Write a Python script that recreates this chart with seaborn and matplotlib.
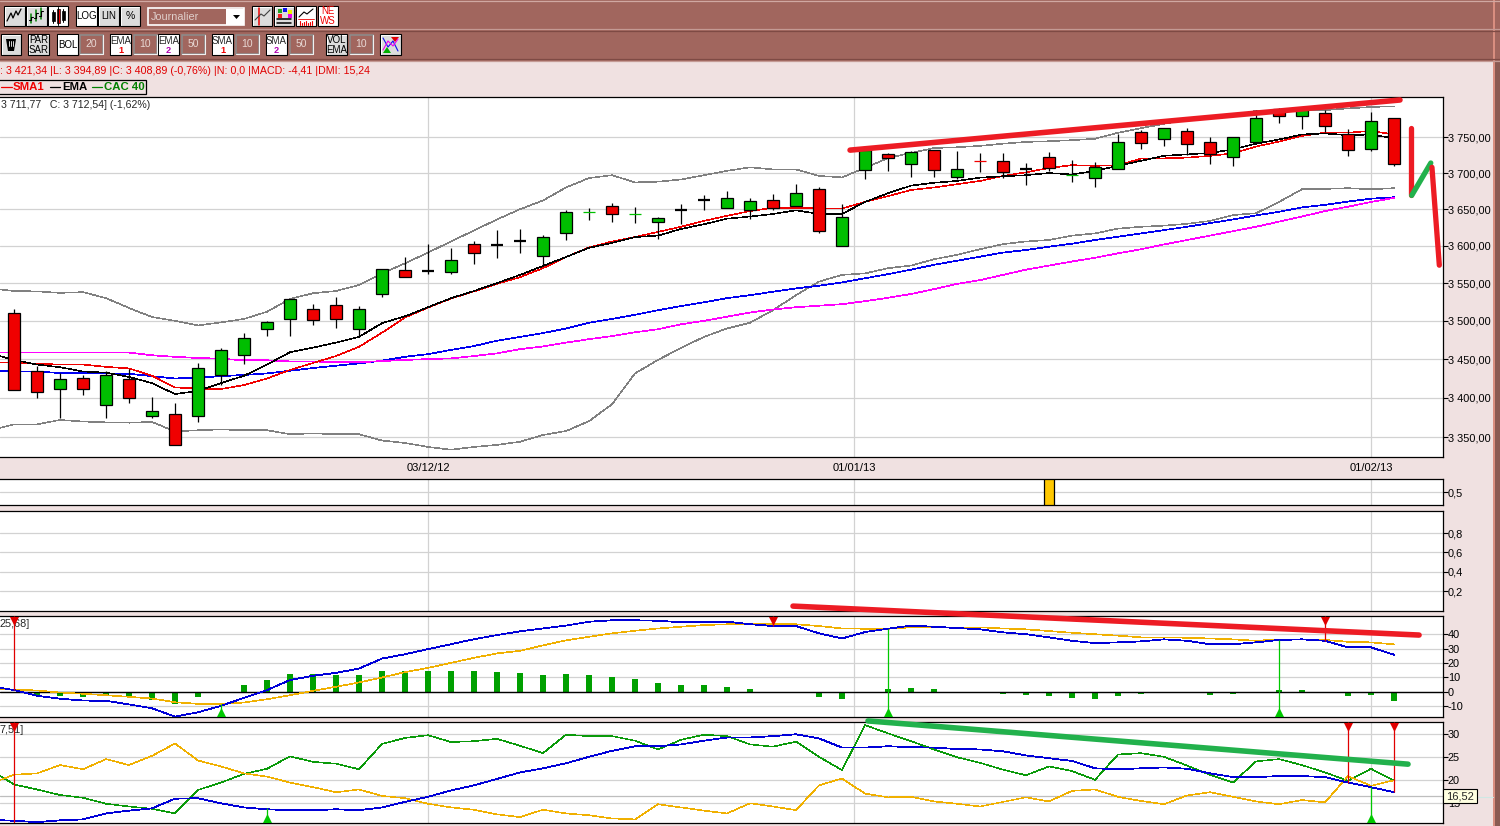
"""
CAC 40 daily chart with Bollinger bands, MACD and DMI panels (trading software screenshot).
"""
import matplotlib
matplotlib.use('Agg')
import matplotlib.pyplot as plt
from matplotlib.patches import Rectangle
import seaborn as sns


# === Data ===

days = list(range(-1, 61))
candle_days = days[1:]

opens = [3511, 3434, 3411, 3425, 3391, 3424, 3377, 3379, 3377, 3430, 3455, 3489, 3503, 3515, 3520.5, 3489,
         3536, 3567, 3566.5, 3564.5, 3602, 3601, 3606, 3587, 3618, 3646, 3654, 3643, 3632, 3649, 3662.5,
         3651, 3648.5, 3662, 3654, 3677.5, 3599.5, 3704, 3726, 3712, 3732, 3694, 3716.5, 3716.5, 3706,
         3722, 3697, 3693, 3705, 3757, 3747, 3758.5, 3743, 3722, 3744, 3790, 3780, 3785, 3754, 3734, 3777]
highs = [3516, 3441, 3432, 3429.5, 3435, 3437, 3401, 3393.5, 3444.6, 3464.5, 3484, 3500, 3528.5, 3522, 3531,
         3519, 3568.6, 3585, 3602, 3597, 3606.5, 3622, 3623, 3615, 3649, 3651, 3658, 3652.5, 3639, 3657,
         3669, 3675, 3666, 3671, 3685, 3680, 3657, 3735, 3727.5, 3731, 3732, 3731, 3728, 3728, 3714,
         3729.5, 3718, 3715, 3754, 3760, 3763.5, 3763, 3751, 3751, 3788.5, 3791, 3793, 3788.5, 3762, 3786, 3777]
lows = [3410, 3400, 3374, 3404, 3374, 3394, 3374, 3341, 3370, 3416, 3444, 3480.5, 3480.5, 3494, 3491, 3479,
        3532, 3558, 3562.5, 3562.5, 3575, 3584, 3590, 3574.5, 3608, 3635, 3632.5, 3631, 3610, 3630, 3649,
        3651, 3637, 3649, 3654, 3618, 3599.5, 3692, 3703, 3695, 3695, 3692, 3701, 3693, 3683, 3703, 3688,
        3680, 3705, 3734, 3738, 3725, 3713, 3710, 3744, 3770, 3762, 3757, 3724, 3731, 3710]
closes = [3410, 3407, 3424, 3412, 3430, 3399.5, 3383, 3341, 3439, 3461.5, 3477, 3498, 3528.5, 3500.5, 3502,
          3515, 3568.6, 3558, 3566.5, 3581, 3590, 3601, 3606, 3612, 3646, 3646, 3643, 3643, 3637.5, 3649,
          3662.5, 3666, 3661, 3652, 3673, 3620, 3640, 3731.5, 3720.5, 3729, 3704, 3705.5, 3716.5, 3702,
          3706, 3707.5, 3697, 3708, 3743, 3741.5, 3763, 3740, 3726, 3751, 3777, 3780, 3792, 3765.5, 3732,
          3772.5, 3712.54]
# colour of the flat open = close ticks
doji_colors = {18: 'black', 21: 'black', 22: 'black', 25: '#00C000', 27: '#00C000', 29: 'black', 30: 'black',
               42: '#F00000', 44: 'black', 46: '#00C000'}

boll_upper = [3543, 3539.5, 3539, 3537, 3538, 3530, 3517, 3505, 3500, 3494, 3498, 3502.5, 3512, 3529, 3536.5,
              3539.5, 3547.5, 3563, 3576.5, 3591, 3606, 3621, 3636, 3650, 3662, 3680, 3693, 3697, 3687, 3688,
              3691, 3697, 3703, 3708, 3705, 3705, 3696, 3694, 3707, 3721, 3728, 3735, 3736, 3738, 3741,
              3743.5, 3744.5, 3746, 3748, 3756.5, 3763, 3769, 3774.5, 3778.5, 3781.5, 3787.5, 3787.5, 3787.5,
              3788.5, 3791, 3793, 3794]
boll_lower = [3359, 3366.5, 3366.5, 3372, 3370, 3369, 3368.5, 3369.5, 3357.5, 3359, 3360, 3359, 3359, 3354,
              3355, 3354, 3354, 3346, 3343, 3338, 3334.5, 3338, 3340.5, 3344.5, 3353, 3358, 3370.5, 3392,
              3431.5, 3449, 3464.5, 3479, 3490, 3497.5, 3514, 3534, 3552, 3561, 3563, 3570, 3573.5, 3582,
              3588, 3595.5, 3602.5, 3606, 3608, 3614, 3617, 3623.5, 3626, 3627.5, 3630, 3634, 3642, 3644.5,
              3660, 3677.5, 3678, 3679, 3677.5, 3679]
ema_short = [3457, 3449, 3443, 3439.5, 3434, 3432.5, 3427, 3419, 3405, 3409, 3419, 3428.5, 3443, 3459, 3465,
             3471.5, 3479, 3497, 3506, 3518, 3530, 3539.5, 3550, 3561, 3573, 3585, 3597.5, 3604, 3612, 3614,
             3623, 3629.5, 3637, 3640, 3643.5, 3648.5, 3643.5, 3643.5, 3660, 3672, 3682.5, 3686.5, 3689,
             3693.5, 3695.5, 3697, 3700, 3698, 3703, 3710, 3717, 3724, 3726, 3728, 3733, 3741, 3747, 3754,
             3755.5, 3753, 3754, 3748.5]
sma_short = [3446.5, 3445, 3444, 3443, 3443, 3440, 3438, 3428.5, 3413.5, 3412, 3411.5, 3416.5, 3425, 3436,
             3445, 3454, 3466, 3484.5, 3504.5, 3517.5, 3529.5, 3539, 3549, 3558, 3570, 3585, 3598, 3606,
             3612, 3619, 3626, 3634, 3641, 3647.5, 3652, 3652, 3651, 3651, 3660, 3668, 3676.5, 3680, 3684.5,
             3689, 3696, 3701, 3707, 3711, 3710, 3711, 3720, 3720.5, 3721.5, 3724, 3727.5, 3737, 3744, 3752,
             3756.5, 3756.5, 3759, 3754]
ema_long = [3435, 3434, 3434, 3432, 3432.5, 3431.5, 3431, 3428, 3425, 3426, 3428, 3429.5, 3431.5, 3435, 3438.5,
            3441.5, 3444.5, 3448, 3453, 3456.5, 3462, 3467, 3474, 3479, 3484, 3490, 3497.5, 3502.5, 3508,
            3514, 3519.5, 3524.5, 3530, 3534, 3538.5, 3543, 3546.5, 3551, 3556.5, 3562, 3568, 3574.5, 3580,
            3585.5, 3591, 3594.5, 3599, 3603, 3608, 3612.5, 3617, 3621.5, 3626, 3631, 3636, 3641.5, 3646.5,
            3652.5, 3656, 3660.5, 3664.5, 3666.5]
sma_long = [3458.5, 3458.5, 3458.5, 3458.5, 3458.5, 3458.5, 3458.5, 3455, 3453, 3451.5, 3450.5, 3448.5, 3448.5,
            3447, 3447, 3446, 3446, 3447.5, 3449, 3450, 3451, 3454, 3457.5, 3463, 3466.5, 3471.5, 3476, 3480,
            3485, 3489, 3495.5, 3500, 3505.5, 3511, 3515, 3518, 3520, 3522, 3526, 3530.5, 3535.5, 3542, 3549,
            3554, 3561, 3568, 3573.5, 3579, 3584, 3590, 3595.5, 3602, 3608, 3614, 3620, 3626, 3633, 3640,
            3647.5, 3653.5, 3660, 3665.5]

# Hand-drawn trend marks on the price panel.
trend_days = [36.35, 60.26]
trend_prices = [3732, 3803]
zigzag_red_days = [60.74, 60.74]
zigzag_red_prices = [3763, 3670]
zigzag_green_days = [60.77, 61.6]
zigzag_green_prices = [3669, 3714]
zigzag_fall_days = [61.65, 61.97]
zigzag_fall_prices = [3708, 3574]

price_ticks = [3350, 3400, 3450, 3500, 3550, 3600, 3650, 3700, 3750]
price_labels = ['3 350,00', '3 400,00', '3 450,00', '3 500,00', '3 550,00', '3 600,00', '3 650,00',
                '3 700,00', '3 750,00']
date_ticks = [18, 36.52, 59]
date_labels = ['03/12/12', '01/01/13', '01/02/13']

alert_days = [45]
alert_values = [1]
alert_ticks = [0.5]
alert_labels = ['0,5']
volume_ticks = [0.2, 0.4, 0.6, 0.8]
volume_labels = ['0,2', '0,4', '0,6', '0,8']

macd_line = [3.7, 1, -3, -5, -6.3, -6.5, -9, -11.7, -17.5, -14.5, -10, -4.4, 1, 8, 11, 13, 16, 23, 26, 29.6, 33,
             36.5, 39.4, 42, 44, 46, 48.7, 49.7, 49.7, 49.4, 48.3, 48.7, 48.7, 47, 45.7, 45.7, 40.6, 37, 41.5,
             43.8, 46, 45.2, 44.3, 43.4, 41.3, 40, 37.8, 35.4, 33.8, 34.3, 35, 36.4, 35.4, 33, 33, 34.3, 36,
             36.4, 35.4, 30.8, 30.8, 25.68]
macd_signal = [1.4, 1.4, 0.7, -0.7, -1.6, -2.6, -3.7, -4.9, -7.5, -8.6, -8.6, -7.7, -5.4, -2.6, 0.5, 3.3, 6.3,
               9.8, 13.5, 16.5, 20, 23.5, 26.6, 28.4, 32.2, 35.7, 38.2, 40.6, 42.4, 44, 45.2, 46.4, 46.9, 47,
               46.9, 46.9, 45.7, 44, 43.8, 43.8, 44.8, 44.8, 44.8, 44.8, 44, 43.4, 42.2, 41, 40, 39, 37.8, 37.8,
               37.5, 37, 36.4, 35.4, 36.4, 36.4, 36, 34.7, 34.3, 32.9]
macd_hist = [0, -2.6, -3.3, -4, -3, -3.3, -5.8, -8.9, -4, 0, 4.4, 8, 12, 12, 11.4, 11.4, 14.2, 14.2, 14.2, 14.2,
             14.2, 13.5, 12.8, 11.4, 12, 11.4, 10, 8.6, 5.8, 4.4, 4.4, 3, 1.6, 0, 0, -4, -5.4, 0, 1.6, 2.3, 1.6,
             0, 0, -1.6, -2.6, -3.3, -4.7, -5.4, -3.3, -1.9, 0, -0.9, -2.6, -1.9, 0, 0.9, 0.9, 0, -3.3, -2.6, -6.8]
macd_ticks = [-10, 0, 10, 20, 30, 40]
macd_labels = ['-10', '0', '10', '20', '30', '40']
macd_sell_days = [0, 33, 57]
macd_sell_values = [1, 45.7, 35.4]
macd_buy_days = [9, 38, 55]
macd_buy_values = [-8.6, 43.8, 36]
macd_trend_days = [33.87, 61.09]
macd_trend_values = [59.6, 39.4]

di_plus = [22.2, 19.1, 18, 16.8, 16.2, 14.9, 14.3, 13.8, 12.8, 17.9, 19.5, 21.4, 22.5, 25.2, 24, 23.6, 22.4, 27.9,
           29.2, 29.8, 28.3, 28.5, 29, 27.5, 25.9, 29.9, 29.6, 29.6, 28.6, 26.7, 28.8, 29.9, 29.6, 27.8, 27.3,
           28.4, 25.1, 22.2, 32, 30.2, 28.5, 26.7, 25, 23.8, 22.3, 21.1, 23, 22, 20.1, 25.6, 25.9, 25.1, 23.2,
           21.2, 19.5, 24.1, 24.6, 23.3, 21.7, 19.9, 22.5, 19.9]
di_minus = [19.3, 21.2, 21.5, 23.3, 22.4, 24.6, 23.3, 25.3, 28, 24.3, 23, 21.5, 20.8, 19.5, 18.5, 17.4, 18, 16.6,
            16.1, 14.9, 14.1, 13.6, 12.6, 12, 13.6, 12.8, 12.4, 11.7, 11.5, 14.8, 14.1, 13.4, 12.8, 15, 14.3, 13.5,
            18.9, 20.4, 17.1, 16.3, 16.4, 15.4, 14.9, 14.3, 15.3, 16.3, 15.4, 17.7, 18, 16.4, 15.5, 14.8, 16.7,
            17.4, 16.4, 15.4, 14.8, 15.7, 15.2, 20.9, 18.8, 20]
adx = [11.4, 11.2, 10.9, 11.3, 11.5, 12.8, 13.4, 13.9, 16, 16.1, 15, 14.1, 13.7, 13.5, 13.5, 13.7, 13.5, 14.1, 15.3,
       16.4, 17.8, 18.9, 20.3, 21.7, 22.6, 23.7, 25.1, 26.4, 27.4, 27.4, 27.8, 28.6, 29.3, 29.3, 29.6, 30, 29.1,
       27.1, 27.1, 27.4, 27.2, 27.1, 26.8, 26.7, 26.3, 25.4, 24.8, 24.2, 22.6, 22.4, 22.6, 22.8, 22.5, 21.5, 20.7,
       20.7, 20.9, 20.9, 20.7, 19.5, 18.5, 17.4]
dmi_ticks = [15, 20, 25, 30]
dmi_labels = ['15', '20', '25', '30']
dmi_sell_days = [0, 58, 60]
dmi_sell_values = [10.7, 19.5, 17.4]
dmi_buy_days = [11, 59]
dmi_buy_values = [13.9, 18.6]
dmi_trend_days = [37.13, 60.61]
dmi_trend_values = [32.9, 23.5]
dmi_cursor = 16.52


# === Setup ===

sns.set_theme(style='white')
plt.rcParams.update({
    'font.family': ['Liberation Sans', 'DejaVu Sans'],
    'font.size': 8,
    'axes.linewidth': 0.9,
    'axes.edgecolor': 'black',
    'xtick.color': 'black',
    'ytick.color': 'black',
})

BROWN = '#A1665E'
PINK = '#F0E1E1'
GRID = '#D2D2D2'
W, H = 1500, 826
LEFT_DAY = -14 / 23
RIGHT_DAY = (1442.5 - 14) / 23

fig = plt.figure(figsize=(15, 8.26), dpi=100, facecolor=PINK)


def panel(top, bottom, ylim, log=False):
    """Make a panel from its pixel rows on the screen."""
    ax = fig.add_axes([0, 1 - bottom / H, 1442.5 / W, (bottom - top) / H])
    if log:
        ax.set_yscale('log')
    ax.set_ylim(*ylim)
    ax.set_facecolor('white')
    ax.spines['left'].set_visible(False)
    return ax


def finish(ax, ylim, ticks, labels):
    ax.set_xlim(LEFT_DAY, RIGHT_DAY)
    ax.set_ylim(*ylim)
    ax.yaxis.tick_right()
    ax.set_yticks(ticks, labels)
    ax.minorticks_off()
    ax.set_xticks(date_ticks, [])
    ax.set_xlabel('')
    ax.set_ylabel('')
    ax.tick_params(axis='y', length=3.4, width=0.8, pad=0.4, labelsize=7.9, labelright=True, labelleft=False)
    ax.tick_params(axis='x', length=0)
    ax.grid(True, color=GRID, lw=0.9)
    ax.set_axisbelow(True)


def line(ax, x, y, color, lw=0.4):
    sns.lineplot(x=x, y=y, color=color, lw=lw, antialiased=False, ax=ax, legend=False,
                 estimator=None, zorder=3)


def signals(ax, sell_days, sell_values, buy_days, buy_values, ylim, pad):
    """Buy and sell flags: a stem from the panel edge with a small triangle."""
    ax.vlines(sell_days, sell_values, ylim[1], color='#E00000', lw=0.9, zorder=5)
    ax.vlines(buy_days, ylim[0], buy_values, color='#00C800', lw=0.9, zorder=5)
    ax.scatter(sell_days, [ylim[1] - pad] * len(sell_days), marker='v', s=42, color='#E00000', lw=0, zorder=6)
    ax.scatter(buy_days, [ylim[0] + pad] * len(buy_days), marker='^', s=42, color='#00C800', lw=0, zorder=6)


# === Price panel ===

price_lim = (3326, 3808)
ax = panel(96.5, 456.5, price_lim, log=True)
line(ax, days, boll_upper, '#808080')
line(ax, days, boll_lower, '#808080')
line(ax, days, ema_long, '#0000F0', 0.5)
line(ax, days, sma_long, '#FF00FF', 0.5)
line(ax, days, sma_short, '#F00000', 0.4)
line(ax, days, ema_short, 'black', 0.4)

# Candles sit on top of the averages.
ax.vlines(candle_days, lows, highs, color='black', lw=0.9, zorder=4)
for day, o, c in zip(candle_days, opens, closes):
    if day in doji_colors:
        color = doji_colors[day]
        ax.hlines(c, day - 0.28, day + 0.28, color=color, lw=1.6 if color == 'black' else 0.9, zorder=5)
    else:
        ax.bar(day, abs(c - o), bottom=min(o, c), width=0.53, color='#00BE00' if c > o else '#F00000',
               edgecolor='black', lw=0.9, zorder=5)

finish(ax, price_lim, price_ticks, price_labels)
ax.tick_params(axis='x', length=2, width=0.8, labelbottom=True, labelsize=8, pad=3)
ax.set_xticks(date_ticks, date_labels)

ax.plot(trend_days, trend_prices, color='#ED1C24', lw=4, solid_capstyle='round', zorder=8)
ax.plot(zigzag_red_days, zigzag_red_prices, color='#ED1C24', lw=3.8, solid_capstyle='round', zorder=8)
ax.plot(zigzag_green_days, zigzag_green_prices, color='#22B14C', lw=3.8, solid_capstyle='round', zorder=8)
ax.plot(zigzag_fall_days, zigzag_fall_prices, color='#ED1C24', lw=3.8, solid_capstyle='round', zorder=8)
ax.text(1 / 1442.5, 0.977, '3 711,77   C: 3 712,54] (-1,62%)', transform=ax.transAxes, fontsize=7.6, va='center',
        zorder=9)


# === Alert panel ===

alert_lim = (0, 1)
ax = panel(478.7, 505.3, alert_lim)
sns.barplot(x=alert_days, y=alert_values, native_scale=True, width=0.43, color='#FFC800', saturation=1,
            edgecolor='black', lw=0.9, ax=ax, zorder=3)
finish(ax, alert_lim, alert_ticks, alert_labels)


# === Volume panel (empty) ===

volume_lim = (-0.007, 1.03)
ax = panel(510.7, 611.3, volume_lim)
finish(ax, volume_lim, volume_ticks, volume_labels)


# === MACD panel ===

macd_lim = (-18, 52.7)
ax = panel(616, 717.3, macd_lim)
sns.barplot(x=candle_days, y=macd_hist, native_scale=True, width=0.26, color='#00A000', saturation=1, lw=0,
            ax=ax, zorder=2)
ax.axhline(0, color='black', lw=1.0, zorder=2.5)
line(ax, days, macd_signal, '#F0B000', 0.45)
line(ax, days, macd_line, '#0000D8', 0.55)
finish(ax, macd_lim, macd_ticks, macd_labels)
signals(ax, macd_sell_days, macd_sell_values, macd_buy_days, macd_buy_values, macd_lim, 3.5)
ax.plot(macd_trend_days, macd_trend_values, color='#ED1C24', lw=4, solid_capstyle='round', clip_on=False, zorder=8)
ax.text(0.0, 0.925, '25,68]', transform=ax.transAxes, fontsize=7.8, va='center', zorder=4)


# === DMI panel ===

dmi_lim = (10.65, 32.6)
ax = panel(722.3, 823.3, dmi_lim)
ax.axhline(dmi_cursor, color='#BEBEBE', lw=0.9, zorder=1)
line(ax, days, di_plus, '#0A9A0A', 0.4)
line(ax, days, di_minus, '#F0B000', 0.4)
line(ax, days, adx, '#0000D8', 0.55)
finish(ax, dmi_lim, dmi_ticks, dmi_labels)
signals(ax, dmi_sell_days, dmi_sell_values, dmi_buy_days, dmi_buy_values, dmi_lim, 1.1)
ax.plot(dmi_trend_days, dmi_trend_values, color='#22B14C', lw=4, solid_capstyle='round', clip_on=False, zorder=8)
ax.text(0.0, 0.925, '7,51]', transform=ax.transAxes, fontsize=7.8, va='center', zorder=4)


# === Window chrome ===

ui = fig.add_axes([0, 0, 1, 1], zorder=20)
ui.set_xlim(0, W)
ui.set_ylim(H, 0)
ui.axis('off')
ui.patch.set_alpha(0)


def box(x0, y0, x1, y1, **kw):
    ui.add_patch(Rectangle((x0, y0), x1 - x0, y1 - y0, **kw))


def button(x0, y0, x1, y1, face='#DCDCDC', text=None, color='black', size=7):
    box(x0, y0, x1, y1, facecolor=face, edgecolor='black', lw=0.8)
    ui.plot([x0 + 1, x0 + 1, x1 - 1], [y1 - 1, y0 + 1, y0 + 1], color='white', lw=0.7)
    if text:
        ui.text((x0 + x1) / 2, (y0 + y1) / 2 + 0.3, text, ha='center', va='center', fontsize=size, color=color,
                linespacing=0.95)


def field(x0, y0, x1, y1, text):
    box(x0, y0, x1, y1, facecolor=BROWN, edgecolor='#8C8C8C', lw=1.1)
    ui.plot([x0, x1, x1], [y1, y1, y0], color='#F0F0F0', lw=0.8)
    ui.text((x0 + x1) / 2, (y0 + y1) / 2 + 0.3, text, ha='center', va='center', fontsize=7.5, color='#E8D8D4')


# Toolbars.
box(0, 0, W, 61, facecolor=BROWN, edgecolor='none')
for y, c in [(1, '#D0A8A2'), (28.5, '#C49A94'), (30.5, '#7E4A44'), (58.5, '#7E4A44'), (60.5, '#C49A94')]:
    ui.plot([0, W], [y, y], color=c, lw=0.9)

r1a, r1b = 5.5, 26
button(3.5, r1a, 24.5, r1b)
ui.plot([7, 11, 13, 16, 18, 21], [21, 13, 18, 11, 15, 9], color='black', lw=0.9)
button(26, r1a, 47, r1b)
for x, a, b in [(31, 14, 23), (36, 10, 21), (41, 8, 19)]:
    ui.plot([x, x], [a, b], color='#008000', lw=1.1)
    ui.plot([x - 2, x, x, x + 2], [b - 3, b - 3, a + 3, a + 3], color='black', lw=0.8)
button(48, r1a, 68, r1b, face='white')
for x, a, b, col in [(53, 12, 21, 'black'), (58, 9, 23, '#F00000'), (63, 11, 20, 'black')]:
    ui.plot([x, x], [a - 2, b + 2], color='black', lw=0.7)
    box(x - 1.5, a, x + 1.5, b, facecolor=col, edgecolor='black', lw=0.5)
button(76, r1a, 97, r1b, face='white', text='LOG', size=7)
button(98, r1a, 119, r1b, text='LIN', size=7)
button(120, r1a, 140, r1b, text='%', size=7.5)

box(148, 8, 244, 25, facecolor=BROWN, edgecolor='white', lw=1.2)
box(226, 8.5, 244, 24.5, facecolor='white', edgecolor='none')
ui.text(151, 16.8, 'Journalier', fontsize=7.8, va='center', color='#E0D0CC')
ui.fill([233, 240, 236.5], [15, 15, 19], color='black', lw=0)

button(252, r1a, 272, r1b)
ui.plot([259, 259], [7.5, 25], color='#F00000', lw=1.1)
ui.plot([255, 261, 264, 270], [20, 14, 16, 10], color='#404040', lw=0.8)
button(274, r1a, 294, r1b)
for x, y, c in [(278, 9, '#20A020'), (283, 8, '#1010F0'), (288, 10, '#F0F000'), (278, 14, '#F02020'), (288, 14, '#F000F0')]:
    box(x, y, x + 4, y + 4, facecolor=c, edgecolor='none')
ui.plot([277, 291], [19, 19], color='black', lw=1.1)
ui.plot([277, 291], [22.5, 22.5], color='black', lw=1.1)
button(296, r1a, 316, r1b, face='white')
ui.plot([299, 304, 307, 313], [17, 12, 14, 9], color='black', lw=0.8)
ui.plot([298, 314], [19, 19], color='#F00000', lw=0.6)
for x in range(300, 314, 2):
    ui.plot([x, x], [25, 21 + (x % 3)], color='#F00000', lw=0.8)
button(318, r1a, 338, r1b, face='white', text='NE\nWS', color='#F00000', size=7)

r2a, r2b = 34, 55
button(1, r2a, 21, r2b)
ui.fill([6, 16, 14, 8], [39, 39, 51, 51], color='black', lw=0)
for x in (9, 11, 13):
    ui.plot([x, x], [41, 46], color='white', lw=0.6)
button(28, r2a, 49, r2b, text='PAR\nSAR')
button(57, r2a, 78, r2b, face='white', text='BOL')
field(80, 34.5, 103, 53.5, '20')
button(110, r2a, 131, r2b, face='white')
ui.text(120.5, 41, 'EMA', ha='center', va='center', fontsize=7)
ui.text(120.5, 50.5, '1', ha='center', va='center', fontsize=6.6, color='#F00000', weight='bold')
field(134, 34.5, 157, 53.5, '10')
button(158, r2a, 179, r2b, face='white')
ui.text(168.5, 41, 'EMA', ha='center', va='center', fontsize=7)
ui.text(168.5, 50.5, '2', ha='center', va='center', fontsize=6.6, color='#B000B0', weight='bold')
field(182, 34.5, 205, 53.5, '50')
button(212, r2a, 233, r2b, face='white')
ui.text(222.5, 41, 'SMA', ha='center', va='center', fontsize=7)
ui.text(222.5, 50.5, '1', ha='center', va='center', fontsize=6.6, color='#F00000', weight='bold')
field(236, 34.5, 259, 53.5, '10')
button(266, r2a, 287, r2b, face='white')
ui.text(276.5, 41, 'SMA', ha='center', va='center', fontsize=7)
ui.text(276.5, 50.5, '2', ha='center', va='center', fontsize=6.6, color='#B000B0', weight='bold')
field(290, 34.5, 313, 53.5, '50')
button(326, r2a, 347, r2b, text='VOL\nEMA')
field(350, 34.5, 373, 53.5, '10')
button(380, r2a, 401, r2b)
ui.plot([383, 388, 393, 398], [38, 47, 41, 51], color='#1010F0', lw=0.8)
ui.plot([383, 388, 393, 398], [50, 41, 46, 39], color='#F000F0', lw=0.8)
ui.fill([391, 399, 395], [37, 37, 42], color='#E00000', lw=0)
ui.fill([383, 391, 387], [53, 53, 47], color='#00B000', lw=0)

# Status line and legend.
ui.text(0, 71.5, ': 3 421,34 |L: 3 394,89 |C: 3 408,89 (-0,76%) |N: 0,0 |MACD: -4,41 |DMI: 15,24', color='#E00000',
        fontsize=7.65, va='center')
box(-2, 79.5, 146, 94, facecolor=PINK, edgecolor='black', lw=0.9)
for x0, x1, tx, label, c in [(1, 12, 13, 'SMA1', '#F00000'), (50, 60, 62.5, 'EMA', 'black'), (92, 102, 104.5, 'CAC 40', '#008000')]:
    ui.plot([x0, x1], [87, 87], color=c, lw=0.9)
    ui.text(tx, 87.2, label, color=c, fontsize=8.2, weight='bold', va='center')

# Window edge at the right.
box(1493, 0, 1495, H, facecolor='#D98E80', edgecolor='none', zorder=1)
box(1495, 61, W, H, facecolor='#8A5A52', edgecolor='none', zorder=1)

# Cursor read-out over the DMI axis.
ui.plot([1476, 1493], [796.5, 796.5], color='#CFE8E4', lw=0.8)
box(1443.3, 789.3, 1476.7, 803.3, facecolor='#FFFFE1', edgecolor='black', lw=0.8, zorder=5)
ui.text(1460, 796.6, '16,52', ha='center', va='center', fontsize=8, zorder=6)

fig.savefig('out.png', dpi=100, facecolor=PINK)
